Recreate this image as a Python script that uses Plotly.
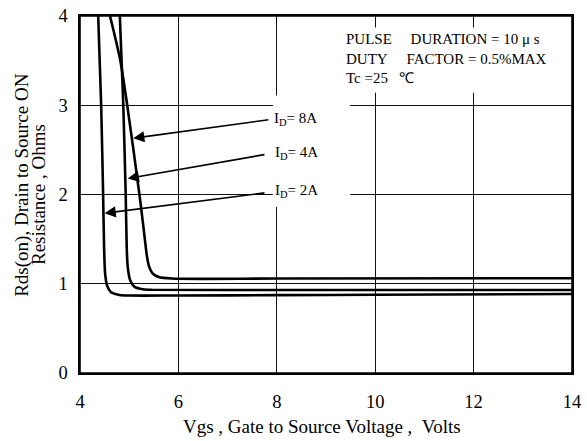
import plotly.graph_objects as go

# ---- data ----
vgs_2a = [4.37, 4.43, 4.47, 4.49, 4.51, 4.55, 4.63, 4.80, 5.0, 6.0, 8.0, 10.0, 14.0]
rds_2a = [4.00, 3.00, 2.00, 1.40, 1.12, 0.98, 0.905, 0.875, 0.868, 0.868, 0.872, 0.877, 0.885]

vgs_4a = [4.81, 4.845, 4.88, 4.93, 4.95, 4.97, 5.02, 5.11, 5.28, 5.46, 8.0, 14.0]
rds_4a = [4.00, 3.50, 3.00, 1.97, 1.40, 1.19, 1.04, 0.965, 0.938, 0.932, 0.93, 0.93]

vgs_8a = [4.61, 4.82, 4.96, 5.22, 5.32, 5.36, 5.40, 5.47, 5.60, 5.87, 8.0, 14.0]
rds_8a = [4.00, 3.50, 3.00, 1.95, 1.49, 1.31, 1.20, 1.12, 1.075, 1.058, 1.058, 1.062]

series_names = ["I<sub>D</sub>= 8A", "I<sub>D</sub>= 4A", "I<sub>D</sub>= 2A"]
label_pos = [(7.90, 2.85), (7.93, 2.46), (7.93, 2.04)]
arrow_tail = [(7.86, 2.84), (7.78, 2.45), (7.78, 2.02)]
arrow_tip = [(5.08, 2.63), (4.97, 2.18), (4.50, 1.79)]

x_ticks = [4, 6, 8, 10, 12, 14]
y_ticks = [0, 1, 2, 3, 4]

NB = "\u00a0"
note_text = ("PULSE" + NB * 5 + "DURATION = 10 \u03bc s<br>"
             "DUTY" + NB * 5 + "FACTOR = 0.5%MAX<br>"
             "Tc =25" + NB * 3 + "\u2103")

FONT = "Liberation Serif, Times New Roman, serif"

fig = go.Figure()
for xs, ys in [(vgs_2a, rds_2a), (vgs_4a, rds_4a), (vgs_8a, rds_8a)]:
    fig.add_trace(go.Scatter(x=xs, y=ys, mode="lines",
                             line=dict(color="black", width=2.6, shape="spline", smoothing=0.7),
                             showlegend=False, hoverinfo="skip"))

annotations = []
for name, (lx, ly), (tx, ty), (hx, hy) in zip(series_names, label_pos, arrow_tail, arrow_tip):
    annotations.append(dict(x=lx, y=ly, xref="x", yref="y", text=name, showarrow=False,
                            xanchor="left", yanchor="middle",
                            font=dict(family=FONT, size=15, color="black")))
    annotations.append(dict(x=hx, y=hy, ax=tx, ay=ty, xref="x", yref="y", axref="x", ayref="y",
                            text="", showarrow=True, arrowhead=2, arrowsize=1.4,
                            arrowwidth=1.6, arrowcolor="black"))

annotations.append(dict(x=9.36, y=3.86, xref="x", yref="y", text=note_text, showarrow=False,
                        xanchor="left", yanchor="top", align="left",
                        font=dict(family=FONT, size=15, color="black")))

# y-axis title, two tightly spaced lines
annotations.append(dict(x=-0.118, y=0.527, xref="paper", yref="paper",
                        text="Rds(on), Drain to Source ON",
                        textangle=-90, showarrow=False, xanchor="center", yanchor="middle",
                        font=dict(family=FONT, size=19, color="black")))
annotations.append(dict(x=-0.083, y=0.499, xref="paper", yref="paper",
                        text="Resistance , Ohms",
                        textangle=-90, showarrow=False, xanchor="center", yanchor="middle",
                        font=dict(family=FONT, size=19, color="black")))
# x-axis title
annotations.append(dict(x=0.492, y=-0.151, xref="paper", yref="paper",
                        text="Vgs , Gate to Source Voltage ," + NB * 2 + "Volts",
                        showarrow=False, xanchor="center", yanchor="middle",
                        font=dict(family=FONT, size=19, color="black")))

shapes = [
    # white patches that interrupt the grid behind the labels
    dict(type="rect", xref="x", yref="y", x0=7.92, x1=9.49, y0=1.86, y1=3.11,
         fillcolor="white", line=dict(width=0), layer="between"),
    dict(type="rect", xref="x", yref="y", x0=9.40, x1=13.85, y0=3.14, y1=3.87,
         fillcolor="white", line=dict(width=0), layer="between"),
    # plot frame
    dict(type="rect", xref="paper", yref="paper", x0=0, x1=1, y0=0, y1=1,
         line=dict(color="black", width=1.6), fillcolor="rgba(0,0,0,0)", layer="above"),
]

fig.update_layout(
    width=587, height=441,
    margin=dict(l=80, r=15, t=16, b=68),
    paper_bgcolor="white", plot_bgcolor="white",
    font=dict(family=FONT, size=18, color="black"),
    annotations=annotations, shapes=shapes,
    xaxis=dict(range=[4, 14], tickvals=x_ticks, showgrid=True, gridcolor="#111", gridwidth=1.3,
               showline=True, linecolor="black", linewidth=1.6, mirror=True,
               zeroline=False, ticks="", ticklabelstandoff=11, automargin=False,
               ticklabeloverflow="allow", tickfont=dict(family=FONT, size=18.5)),
    yaxis=dict(range=[0, 4], tickvals=y_ticks, showgrid=True, gridcolor="#111", gridwidth=1.3,
               showline=True, linecolor="black", linewidth=1.6, mirror=True,
               zeroline=False, ticks="", ticklabelstandoff=7, automargin=False,
               ticklabeloverflow="allow", tickfont=dict(family=FONT, size=18.5)),
)

# remove the page's default body margin so the figure fills the window exactly
fig.write_html("out.html", config={"displayModeBar": False, "staticPlot": True},
               post_script="document.body.style.margin='0';document.body.style.overflow='hidden';")
